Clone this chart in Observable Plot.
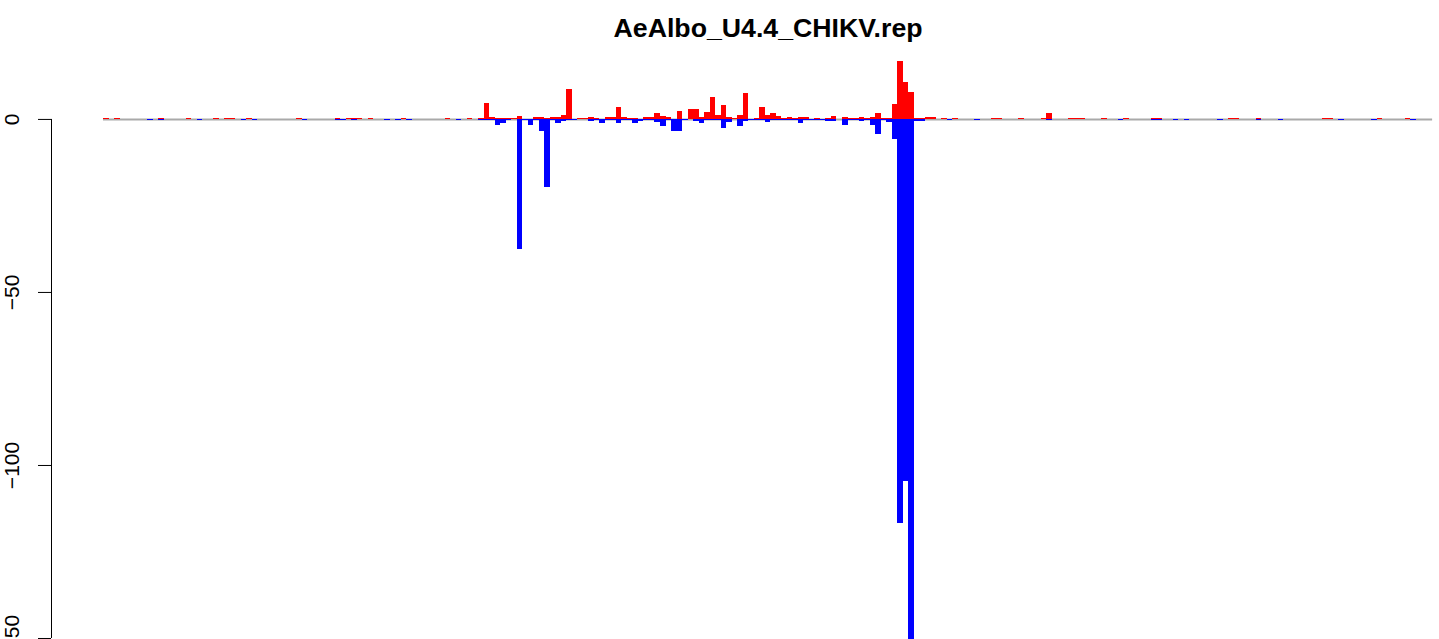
<!DOCTYPE html>
<html>
<head>
<meta charset="utf-8">
<script src="https://cdn.jsdelivr.net/npm/d3@7"></script>
<script src="https://cdn.jsdelivr.net/npm/@observablehq/plot@0.6"></script>
<style>
  html, body { margin: 0; padding: 0; background: #ffffff; }
  #chart svg { display: block; }
</style>
</head>
<body>
<div id="chart"></div>
<script>
const chartTitle = "AeAlbo_U4.4_CHIKV.rep";
const nBins = 241;
const yTicks = [0, -50, -100, -150];

// positive (red) bars: bin index and value
const posBins = [0, 2, 10, 15, 20, 22, 23, 26, 35, 42, 44, 45, 46, 48, 54, 62, 66,
  68, 69, 70, 71, 72, 73, 74, 75, 78, 79, 80, 81, 82, 83, 84, 86, 87, 88, 89, 91, 92, 93, 94, 95, 96,
  98, 99, 100, 101, 102, 104, 106, 107, 108, 109, 110, 111, 112, 113, 114, 115, 116, 118, 119, 120,
  121, 122, 123, 124, 125, 126, 127, 129, 131, 132, 134, 135, 136, 137, 138, 139, 140, 141, 142,
  143, 144, 145, 146, 147, 148, 149, 150, 152, 154,
  161, 162, 166, 170, 171, 175, 176, 177, 181, 185, 190, 191, 204, 205, 209, 221, 222, 231, 236];
const posVals = [0.3, 0.3, 0.3, 0.3, 0.3, 0.3, 0.3, 0.3, 0.3, 0.3, 0.3, 0.3, 0.3, 0.3, 0.3, 0.3, 0.3,
  0.3, 4.6, 0.6, 0.3, 0.3, 0.3, 0.3, 0.9, 0.6, 0.6, 0.3, 0.6, 0.6, 1.2, 8.7, 0.3, 0.3, 0.6, 0.3, 0.6, 0.6, 3.5, 0.6, 0.3, 0.3,
  0.6, 0.6, 1.7, 0.9, 0.6, 2.3, 2.9, 2.9, 0.6, 2.0, 6.4, 1.2, 4.0, 0.6, 0.3, 1.2, 7.5, 0.3, 3.5, 1.2,
  1.7, 0.9, 0.3, 0.6, 0.3, 0.6, 0.6, 0.3, 0.3, 0.9, 0.6, 0.3, 0.3, 0.6, 0.3, 0.6, 1.7, 0.3, 0.3,
  4.3, 16.6, 10.7, 7.8, 0.3, 0.3, 0.6, 0.6, 0.3, 0.3,
  0.3, 0.3, 0.3, 0.3, 1.6, 0.3, 0.3, 0.3, 0.3, 0.3, 0.3, 0.3, 0.3, 0.3, 0.3, 0.3, 0.3, 0.3, 0.3];

// negative (blue) bars: bin index and value
const negBins = [8, 10, 17, 25, 27, 36, 42, 43, 45, 51, 53, 55, 64,
  68, 69, 70, 71, 72, 73, 75, 76, 77, 78, 79, 80, 81, 82, 83, 84, 85, 88, 89, 90, 91, 92, 93, 94, 95,
  96, 97, 98, 99, 100, 101, 102, 103, 104, 105, 107, 108, 109, 110, 111, 112, 113, 115, 116, 117, 118,
  119, 120, 121, 122, 123, 124, 125, 126, 127, 128, 129, 130, 131, 132, 134, 135, 136, 137, 138, 139,
  140, 141, 142, 143, 144, 145, 146, 147, 148, 153,
  158, 171, 184, 190, 191, 194, 196, 202, 209, 213, 224, 230, 237];
const negVals = [-0.3, -0.3, -0.3, -0.3, -0.3, -0.3, -0.3, -0.3, -0.3, -0.3, -0.3, -0.3, -0.3,
  -0.3, -0.3, -0.3, -1.7, -1.1, -0.3, -37.6, -0.3, -1.7, -0.3, -3.5, -19.8, -0.3, -1.2, -0.6, -0.3, -0.3, -0.6, -0.3, -1.2, -0.3, -0.3, -1.2, -0.3, -0.3,
  -1.2, -0.6, -0.3, -0.3, -0.8, -1.9, -0.3, -3.5, -3.5, -0.3, -0.5, -1.2, -0.3, -0.3, -0.3, -2.5, -0.8, -1.9, -0.5, -0.3, -0.3,
  -0.3, -0.8, -0.3, -0.3, -0.3, -0.3, -0.3, -1.2, -0.3, -0.3, -0.3, -0.3, -0.6, -0.6, -1.7, -0.3, -0.3, -0.6, -0.3, -1.7,
  -4.3, -0.3, -0.8, -5.8, -116.7, -104.5, -170, -0.6, -0.6, -0.3,
  -0.3, -0.3, -0.3, -0.3, -0.3, -0.3, -0.3, -0.3, -0.3, -0.3, -0.3, -0.3, -0.3];

const pos = posBins.map((b, i) => ({bin: b, value: posVals[i]}));
const neg = negBins.map((b, i) => ({bin: b, value: negVals[i]}));

// R-style 4% padding on the bar range (left side); right side cropped by the image
const xDomain = [-0.04 * nBins * 0.978, 242.25];
const fontFamily = "'Liberation Sans', Arial, Helvetica, sans-serif";

const chart = Plot.plot({
  width: 1439,
  height: 639,
  marginLeft: 51,
  marginRight: 0,
  marginTop: 60,
  marginBottom: 0,
  style: {fontFamily: fontFamily, background: "#ffffff", overflow: "hidden"},
  x: {type: "linear", domain: xDomain, axis: null},
  y: {type: "linear", domain: [-150.29, 17.03]},
  marks: [
    Plot.ruleY([0], {x1: 0, x2: nBins, stroke: "#a9a9a9", strokeWidth: 2}),
    Plot.rect(pos, {x1: "bin", x2: d => d.bin + 1, y1: 0, y2: "value", fill: "#ff0000", shapeRendering: "crispEdges", clip: true}),
    Plot.rect(neg, {x1: "bin", x2: d => d.bin + 1, y1: 0, y2: "value", fill: "#0000ff", shapeRendering: "crispEdges", clip: true}),
    Plot.axisY({ticks: yTicks, tickSize: 13, tickFormat: () => "", label: null, stroke: "#000000", strokeWidth: 1}),
    Plot.ruleX([xDomain[0]], {y1: d3.min(yTicks), y2: d3.max(yTicks), stroke: "#000000", strokeWidth: 1}),
    Plot.text(yTicks, {y: d => d, text: d => d === 0 ? "0" : "\u2212" + Math.abs(d), frameAnchor: "left", dx: -39, rotate: -90, fontSize: 21, textAnchor: "middle", lineAnchor: "middle", fill: "#000000"}),
    Plot.text([chartTitle], {x: nBins / 2, frameAnchor: "top", dy: -32, fontSize: 26.7, fontWeight: "bold", lineAnchor: "middle", fill: "#000000"})
  ]
});
document.getElementById("chart").appendChild(chart);
</script>
</body>
</html>
